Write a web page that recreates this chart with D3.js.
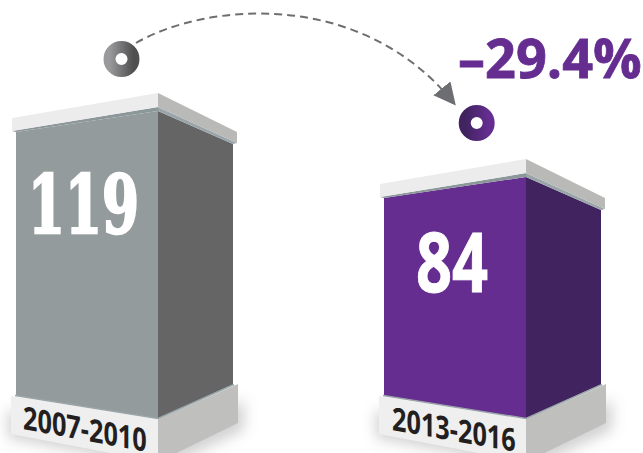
<!DOCTYPE html>
<html>
<head>
<meta charset="utf-8">
<script src="https://cdn.jsdelivr.net/npm/d3@7"></script>
<style>
html, body { margin: 0; padding: 0; background: #fff; }
svg { display: block; }
</style>
</head>
<body>
<div class="tuxing"></div>
<script>
var categories = ["2007-2010", "2013-2016"];
var values = [119, 84];
var valueLabels = ["119", "84"];
var changeLabel = "–29.4%";

var width = 643;
var height = 453;

// bars are not drawn from zero in the original, so the domain is the two values
var y = d3.scaleLinear().domain([84, 119]).range([177, 111]);
var x = d3.scaleBand().domain(categories).range([16, 752]);

var frontW = 142, sideW = 75;
var colors = [
    { front: "#949b9d", side: "#656566", a: "#9a9a9c", b: "#4f4f50" },
    { front: "#652d90", side: "#40235f", a: "#40235f", b: "#652d90" }
];

var svg = d3.select(".tuxing").append("svg")
    .attr("width", width)
    .attr("height", height);

var defs = svg.append("defs");
var blur = defs.append("filter").attr("id", "soft")
    .attr("x", "-20%").attr("y", "-20%").attr("width", "140%").attr("height", "140%");
blur.append("feGaussianBlur").attr("stdDeviation", 7);

colors.forEach(function (c, i) {
    var g = defs.append("linearGradient").attr("id", "ring" + i);
    g.append("stop").attr("offset", "0%").attr("stop-color", c.a);
    g.append("stop").attr("offset", "100%").attr("stop-color", c.b);
});

function pts(list) {
    return list.map(function (p) { return p.join(","); }).join(" ");
}

var bars = svg.selectAll("g.bar")
    .data(categories)
    .enter()
    .append("g")
    .attr("class", "bar")
    .attr("transform", function (d) { return "translate(" + x(d) + ",0)"; });

bars.each(function (d, i) {
    var g = d3.select(this);
    var c = colors[i];
    var top = y(values[i]);
    var bottomY = 418.5;
    var leftDrop = 21;
    var rightDrop = 33;

    // base shadow
    g.append("polygon")
        .attr("points", pts([[-8, 410], [142, 436], [142, 466], [-8, 438]]))
        .attr("fill", "#999").attr("opacity", 0.45).attr("filter", "url(#soft)");
    g.append("polygon")
        .attr("points", pts([[142, 436], [228, 400], [228, 430], [142, 470]]))
        .attr("fill", "#999").attr("opacity", 0.45).attr("filter", "url(#soft)");

    // base
    g.append("polygon")
        .attr("points", pts([[-5, 396], [142, 419], [142, 462], [-5, 434]]))
        .attr("fill", "#efefef");
    g.append("polygon")
        .attr("points", pts([[142, 419], [222, 384], [222, 423], [142, 462]]))
        .attr("fill", "#bfc0be");

    // bar faces
    g.append("polygon")
        .attr("points", pts([[0, top + leftDrop], [frontW, top], [frontW, bottomY], [0, bottomY - 23]]))
        .attr("fill", c.front);
    g.append("polygon")
        .attr("points", pts([[frontW, top], [frontW + sideW, top + rightDrop], [frontW + sideW, bottomY - 34], [frontW, bottomY]]))
        .attr("fill", c.side);

    // thin line where the bar meets the base
    g.append("polyline")
        .attr("points", pts([[-1, bottomY - 23], [frontW, bottomY], [frontW + sideW + 1, bottomY - 34]]))
        .attr("fill", "none").attr("stroke", "#9aa5a9").attr("stroke-width", 1.5);

    // strip under the cap
    g.append("polygon")
        .attr("points", pts([[-4, top + 20], [frontW, top - 4], [frontW, top], [0, top + 21]]))
        .attr("fill", "#8c979a");
    g.append("polygon")
        .attr("points", pts([[frontW, top - 4], [frontW + sideW + 4, top + 32], [frontW + sideW, top + 33], [frontW, top]]))
        .attr("fill", "#9aa5a9");

    // cap
    g.append("polygon")
        .attr("points", pts([[-4, top + 7], [frontW, top - 18], [frontW, top - 4], [-4, top + 20]]))
        .attr("fill", "#ececec");
    g.append("polygon")
        .attr("points", pts([[frontW, top - 18], [frontW + sideW + 4, top + 21], [frontW + sideW + 4, top + 32], [frontW, top - 4]]))
        .attr("fill", "#b9bab8");
});

// values
svg.append("text").text(valueLabels[0])
    .attr("transform", "translate(28,233) scale(0.74,1)")
    .attr("font-family", "'DejaVu Serif Condensed', 'DejaVu Serif'").attr("font-weight", "bold")
    .attr("font-size", 80).attr("fill", "#fff")
    .attr("stroke", "#fff").attr("stroke-width", 2.5);
svg.append("text").text(valueLabels[1])
    .attr("transform", "translate(416,292) scale(0.76,1)")
    .attr("font-family", "'Open Sans'").attr("font-weight", "bold")
    .attr("font-size", 83).attr("fill", "#fff")
    .attr("stroke", "#fff").attr("stroke-width", 1);

// category labels on the base, sheared onto the face
var labelPos = [[23, 429, 10.5], [392, 430, 10]];
svg.selectAll("text.cat")
    .data(categories)
    .enter()
    .append("text")
    .attr("class", "cat")
    .text(function (d) { return d; })
    .attr("transform", function (d, i) {
        return "translate(" + labelPos[i][0] + "," + labelPos[i][1] + ") skewY(" + labelPos[i][2] + ") scale(0.79,1)";
    })
    .attr("font-family", "'Open Sans'").attr("font-weight", "bold")
    .attr("font-size", 32).attr("fill", "#231f20");

// arrow
defs.append("marker").attr("id", "head")
    .attr("viewBox", "0 0 10 10").attr("refX", 8).attr("refY", 5)
    .attr("markerUnits", "userSpaceOnUse")
    .attr("markerWidth", 22).attr("markerHeight", 22)
    .attr("orient", "auto")
    .append("path").attr("d", "M0,0L10,5L0,10Z").attr("fill", "#6d6e71");

svg.append("path")
    .attr("d", "M136,43C205,3 360,-12 453,102")
    .attr("fill", "none").attr("stroke", "#6d6e71")
    .attr("stroke-width", 2).attr("stroke-dasharray", "8,5")
    .attr("marker-end", "url(#head)");

// rings
var ringPos = [[121.5, 59], [476.7, 123]];
svg.selectAll("circle.ring")
    .data(ringPos)
    .enter()
    .append("circle")
    .attr("class", "ring")
    .attr("cx", function (d) { return d[0]; })
    .attr("cy", function (d) { return d[1]; })
    .attr("r", 12)
    .attr("fill", "none")
    .attr("stroke", function (d, i) { return "url(#ring" + i + ")"; })
    .attr("stroke-width", 12);

// change
svg.append("text").text(changeLabel)
    .attr("x", 458).attr("y", 78)
    .attr("font-family", "'Open Sans'").attr("font-weight", "bold")
    .attr("font-size", 54).attr("fill", "#652d90")
    .attr("stroke", "#652d90").attr("stroke-width", 0.8);
</script>
</body>
</html>
